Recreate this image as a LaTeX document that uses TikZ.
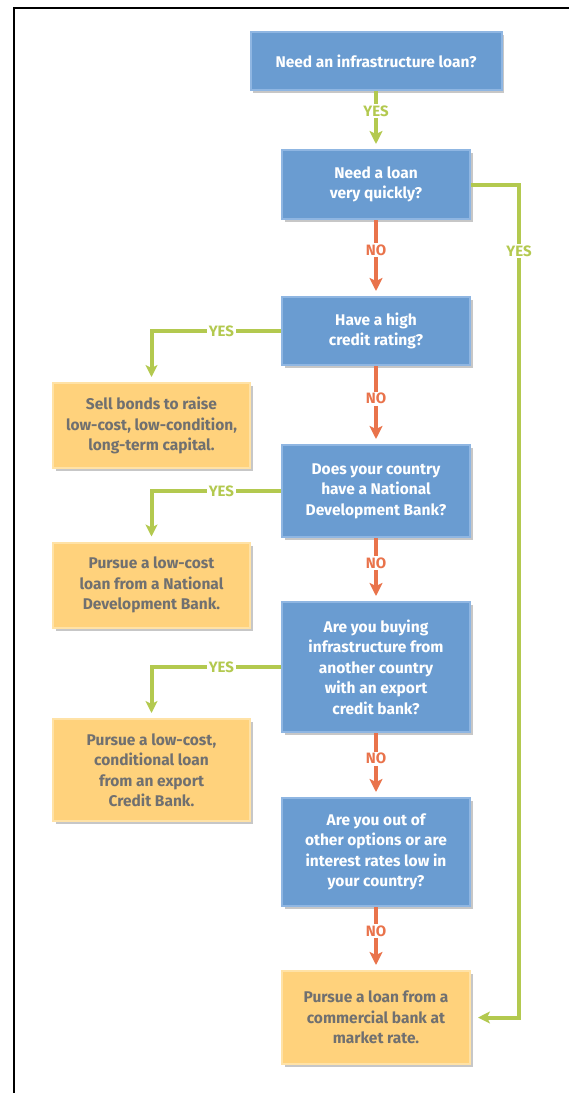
\documentclass[tikz,border=0pt]{standalone}
\usepackage{fontspec}
\setmainfont{Fira Sans}
\usetikzlibrary{arrows.meta,shadows}
\definecolor{bluefill}{HTML}{6A9CD1}
\definecolor{blueedge}{HTML}{8FB6E2}
\definecolor{orfill}{HTML}{FFD27C}
\definecolor{oredge}{HTML}{FFE2A6}
\definecolor{ortext}{HTML}{707070}
\definecolor{yesgreen}{HTML}{B3C94F}
\definecolor{noorange}{HTML}{E9734B}
\tikzset{
  box/.style={line width=2pt, inner sep=0pt, align=center,
    font=\fontsize{15.5}{20.5}\selectfont\bfseries,
    drop shadow={shadow xshift=2.5pt, shadow yshift=-3pt, fill=black, opacity=0.22}},
  qbox/.style={box, fill=bluefill, draw=blueedge, text=white, minimum width=188pt},
  abox/.style={box, fill=orfill, draw=oredge, text=ortext, minimum width=197pt},
  lab/.style={fill=white, inner sep=1.5pt, font=\fontsize{15}{16}\selectfont\bfseries},
  yesv/.style={draw=yesgreen, line width=4.5pt, -{Stealth[length=13pt,width=13pt,inset=3pt]}, shorten >=5pt},
  yesh/.style={draw=yesgreen, line width=4pt, -{Stealth[length=12pt,width=12pt,inset=3pt]}, shorten >=5pt},
  nov/.style={draw=noorange, line width=4.5pt, -{Stealth[length=13pt,width=13pt,inset=3pt]}, shorten >=5pt},
}
\begin{document}
\begin{tikzpicture}[x=1pt,y=-1pt]
\useasboundingbox (0,0) rectangle (569,1093);
\draw[line width=2.5pt] (14,1095) -- (14,8) -- (572,8);

\node[qbox, minimum width=251pt, minimum height=58pt] (b1) at (376,61) {Need an infrastructure loan?};
\node[qbox, minimum height=69pt] (b2) at (376,184.5) {Need a loan\\very quickly?};
\node[qbox, minimum height=68pt] (b3) at (376,331) {Have a high\\credit rating?};
\node[qbox, minimum height=92pt] (b4) at (376,491) {Does your country\\have a National\\Development Bank?};
\node[qbox, minimum height=130pt] (b5) at (376,667) {Are you buying\\infrastructure from\\another country\\with an export\\credit bank?};
\node[qbox, minimum height=108pt] (b6) at (376,852) {Are you out of\\other options or are\\interest rates low in\\your country?};
\node[abox, minimum width=188pt, minimum height=93pt] (fin) at (376,1017.5) {Pursue a loan from a\\commercial bank at\\market rate.};
\node[abox, minimum height=85pt] (A) at (151.5,425.5) {Sell bonds to raise\\low-cost, low-condition,\\long-term capital.};
\node[abox, minimum height=85pt] (B) at (151.5,585) {Pursue a low-cost\\loan from a National\\Development Bank.};
\node[abox, minimum height=102pt] (C) at (151.5,770) {Pursue a low-cost,\\conditional loan\\from an export\\Credit Bank.};

\draw[yesv] (b1) -- node[lab, text=yesgreen, pos=0.35] {YES} (b2);
\draw[nov] (b2) -- node[lab, text=noorange, pos=0.4] {NO} (b3);
\draw[nov] (b3) -- node[lab, text=noorange, pos=0.42] {NO} (b4);
\draw[nov] (b4) -- node[lab, text=noorange, pos=0.4] {NO} (b5);
\draw[nov] (b5) -- node[lab, text=noorange, pos=0.4] {NO} (b6);
\draw[nov] (b6) -- node[lab, text=noorange, pos=0.38] {NO} (fin);

\draw[yesh] (b3.west) -| node[lab, text=yesgreen, pos=0.23] {YES} (A.north);
\draw[yesh] (b4.west) -| node[lab, text=yesgreen, pos=0.23] {YES} (B.north);
\draw[yesh] (b5.west) -| node[lab, text=yesgreen, pos=0.23] {YES} (C.north);
\draw[yesh, shorten >=7pt] (b2.east) -- ++(48,0) |- node[lab, text=yesgreen, pos=0.04] {YES} (fin.east);
\end{tikzpicture}
\end{document}
